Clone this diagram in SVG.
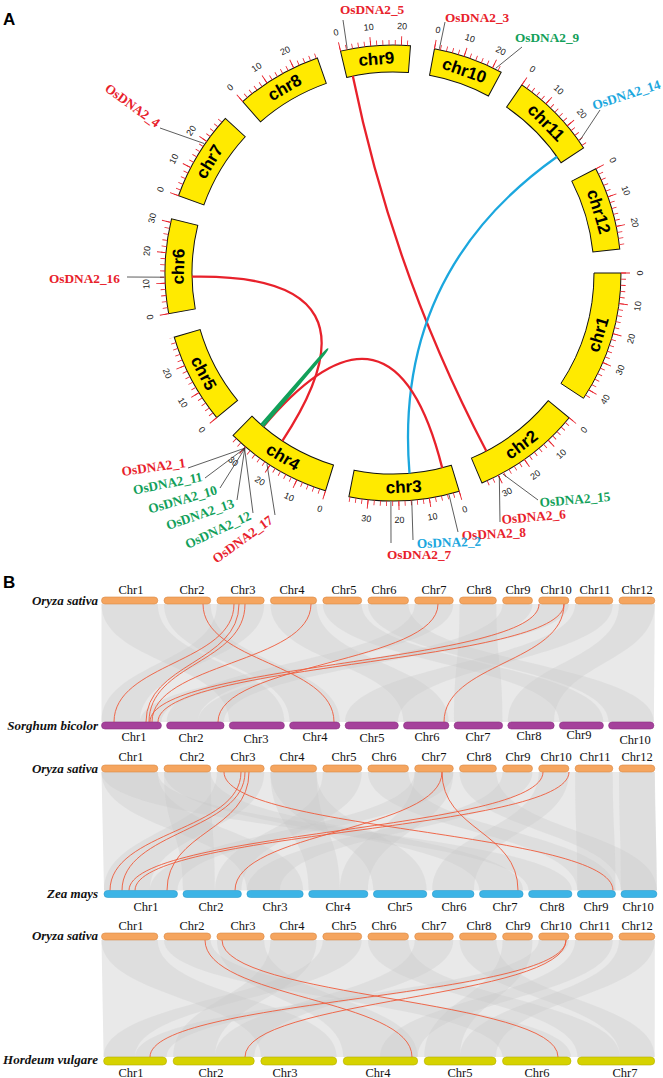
<svg xmlns="http://www.w3.org/2000/svg" width="663" height="1078" viewBox="0 0 663 1078">
<style>
.band{fill:#ffea00;stroke:#111;stroke-width:1}
.tkm{fill:none;stroke:#e8212b;stroke-width:5;stroke-dasharray:0.8 5.3954}
.tkM{fill:none;stroke:#e8212b;stroke-width:9;stroke-dasharray:0.9 30.3457}
.tl{font-family:"Liberation Sans",Arial,sans-serif;font-size:9px;fill:#222;text-anchor:middle;dominant-baseline:central}
.cn{font-family:"Liberation Sans",Arial,sans-serif;font-weight:bold;font-size:17px;fill:#000;text-anchor:middle;dominant-baseline:central}
.gl{font-family:"Liberation Serif","Times New Roman",serif;font-weight:bold;font-size:13.3px}
.r{fill:#e8212b}.g{fill:#12a05a}.c{fill:#1ba7de}
.ld{stroke:#333;stroke-width:0.8;fill:none}
.lk{fill:none;stroke-width:2.3}
.pl{font-family:"Liberation Sans",Arial,sans-serif;font-weight:bold;font-size:17px;fill:#000}
.bg{fill:#e9e9e9}
.rb{fill:#c8c8c8;fill-opacity:.3}
.sy{fill:none;stroke:#ef5a3a;stroke-width:.9}
.cl{font-family:"Liberation Serif","Times New Roman",serif;font-size:12.5px;fill:#111;text-anchor:middle}
.sp{font-family:"Liberation Serif","Times New Roman",serif;font-size:13px;font-weight:bold;font-style:italic;fill:#111;text-anchor:end}
.os{fill:#f5a55f;stroke:#d98a46;stroke-width:.6}
.sb{fill:#a5419b;stroke:#8a2f82;stroke-width:.6}
.zm{fill:#3cb4e6;stroke:#2a9acb;stroke-width:.6}
.hv{fill:#d6d200;stroke:#b5b000;stroke-width:.6}
</style>

<text class="pl" x="3" y="25">A</text>
<text class="pl" x="3" y="588">B</text>

<!-- Circos chromosomes -->
<g id="chr1">
<g transform="translate(393,273) rotate(0)">
<path class="band" d="M228,0 A228,228 0 0 1 190.49,125.31 L167.94,110.47 A201,201 0 0 0 201,0 Z"/>
<path class="tkm" d="M230.5,-0.402 A230.5,230.5 0 0 1 192.58,126.68"/>
<path class="tkM" d="M232.5,-0.406 A232.5,232.5 0 0 1 194.25,127.78"/>
</g>
<text class="cn" transform="translate(598.5,334.5) rotate(-73.3)">chr1</text>
<text class="tl" transform="translate(640,273) rotate(-90)">0</text>
<text class="tl" transform="translate(637.8,306.1) rotate(-82.3)">10</text>
<text class="tl" transform="translate(631.1,338.6) rotate(-74.6)">20</text>
<text class="tl" transform="translate(620.2,369.9) rotate(-66.9)">30</text>
<text class="tl" transform="translate(605.2,399.5) rotate(-59.2)">40</text>
</g>

<g id="chr2">
<g transform="translate(393,273) rotate(39.41)">
<path class="band" d="M228,0 A228,228 0 0 1 201.99,105.77 L178.07,93.24 A201,201 0 0 0 201,0 Z"/>
<path class="tkm" d="M230.5,-0.402 A230.5,230.5 0 0 1 204.20,106.93"/>
<path class="tkM" d="M232.5,-0.406 A232.5,232.5 0 0 1 205.97,107.86"/>
</g>
<text class="cn" transform="translate(521.4,444.8) rotate(-36.8)">chr2</text>
<text class="tl" transform="translate(583.9,429.8) rotate(-50.6)">0</text>
<text class="tl" transform="translate(561.1,454.0) rotate(-42.9)">10</text>
<text class="tl" transform="translate(535.3,474.8) rotate(-35.2)">20</text>
<text class="tl" transform="translate(507.0,492.1) rotate(-27.5)">30</text>
</g>

<g id="chr3">
<g transform="translate(393,273) rotate(73.12)">
<path class="band" d="M228,0 A228,228 0 0 1 201.26,107.16 L177.42,94.47 A201,201 0 0 0 201,0 Z"/>
<path class="tkm" d="M230.5,-0.402 A230.5,230.5 0 0 1 203.46,108.34"/>
<path class="tkM" d="M232.5,-0.406 A232.5,232.5 0 0 1 205.23,109.28"/>
</g>
<text class="cn" transform="translate(403.7,487.2) rotate(-2.9)">chr3</text>
<text class="tl" transform="translate(464.7,509.4) rotate(-16.9)">0</text>
<text class="tl" transform="translate(432.4,516.8) rotate(-9.2)">10</text>
<text class="tl" transform="translate(399.4,519.9) rotate(-1.5)">20</text>
<text class="tl" transform="translate(366.2,518.5) rotate(6.2)">30</text>
</g>

<g id="chr4">
<g transform="translate(393,273) rotate(107.22)">
<path class="band" d="M228,0 A228,228 0 0 1 202.53,104.72 L178.55,92.32 A201,201 0 0 0 201,0 Z"/>
<path class="tkm" d="M230.5,-0.402 A230.5,230.5 0 0 1 204.75,105.87"/>
<path class="tkM" d="M232.5,-0.406 A232.5,232.5 0 0 1 206.53,106.79"/>
</g>
<text class="cn" transform="translate(282.9,457.1) rotate(30.9)">chr4</text>
<text class="tl" transform="translate(319.9,508.9) rotate(17.2)">0</text>
<text class="tl" transform="translate(289.0,497.0) rotate(24.9)">10</text>
<text class="tl" transform="translate(259.8,481.0) rotate(32.6)">20</text>
<text class="tl" transform="translate(233.2,461.4) rotate(40.3)">30</text>
</g>

<g id="chr5">
<g transform="translate(393,273) rotate(140.63)">
<path class="band" d="M228,0 A228,228 0 0 1 209.85,89.15 L185.0,78.59 A201,201 0 0 0 201,0 Z"/>
<path class="tkm" d="M230.5,-0.402 A230.5,230.5 0 0 1 212.15,90.13"/>
<path class="tkM" d="M232.5,-0.406 A232.5,232.5 0 0 1 213.99,90.91"/>
</g>
<text class="cn" transform="translate(203.4,373.2) rotate(62.1)">chr5</text>
<text class="tl" transform="translate(202.0,429.7) rotate(50.6)">0</text>
<text class="tl" transform="translate(182.8,402.7) rotate(58.3)">10</text>
<text class="tl" transform="translate(167.3,373.4) rotate(66.0)">20</text>
</g>

<g id="chr6">
<g transform="translate(393,273) rotate(169.72)">
<path class="band" d="M228,0 A228,228 0 0 1 208.26,92.80 L183.59,81.81 A201,201 0 0 0 201,0 Z"/>
<path class="tkm" d="M230.5,-0.402 A230.5,230.5 0 0 1 210.54,93.81"/>
<path class="tkM" d="M232.5,-0.406 A232.5,232.5 0 0 1 212.37,94.63"/>
</g>
<text class="cn" transform="translate(178.6,266.5) rotate(-88.3)">chr6</text>
<text class="tl" transform="translate(150.0,317.1) rotate(-100.3)">0</text>
<text class="tl" transform="translate(146.2,284.1) rotate(-92.6)">10</text>
<text class="tl" transform="translate(147.0,251.0) rotate(-84.9)">20</text>
<text class="tl" transform="translate(152.2,218.2) rotate(-77.2)">30</text>
</g>

<g id="chr7">
<g transform="translate(393,273) rotate(199.81)">
<path class="band" d="M228,0 A228,228 0 0 1 210.08,88.60 L185.20,78.11 A201,201 0 0 0 201,0 Z"/>
<path class="tkm" d="M230.5,-0.402 A230.5,230.5 0 0 1 212.38,89.57"/>
<path class="tkM" d="M232.5,-0.406 A232.5,232.5 0 0 1 214.23,90.35"/>
</g>
<text class="cn" transform="translate(209.6,161.7) rotate(-58.8)">chr7</text>
<text class="tl" transform="translate(160.6,189.3) rotate(-70.2)">0</text>
<text class="tl" transform="translate(173.9,158.9) rotate(-62.5)">10</text>
<text class="tl" transform="translate(191.2,130.6) rotate(-54.8)">20</text>
</g>

<g id="chr8">
<g transform="translate(393,273) rotate(228.75)">
<path class="band" d="M228,0 A228,228 0 0 1 211.58,84.93 L186.53,74.87 A201,201 0 0 0 201,0 Z"/>
<path class="tkm" d="M230.5,-0.402 A230.5,230.5 0 0 1 213.90,85.86"/>
<path class="tkM" d="M232.5,-0.406 A232.5,232.5 0 0 1 215.76,86.61"/>
</g>
<text class="cn" transform="translate(284.7,87.8) rotate(-30.3)">chr8</text>
<text class="tl" transform="translate(230.2,87.3) rotate(-41.3)">0</text>
<text class="tl" transform="translate(256.5,67.2) rotate(-33.6)">10</text>
<text class="tl" transform="translate(285.3,50.7) rotate(-25.9)">20</text>
</g>

<g id="chr9">
<g transform="translate(393,273) rotate(256.69)">
<path class="band" d="M228,0 A228,228 0 0 1 217.22,69.36 L191.49,61.14 A201,201 0 0 0 201,0 Z"/>
<path class="tkm" d="M230.5,-0.402 A230.5,230.5 0 0 1 219.60,70.12"/>
<path class="tkM" d="M232.5,-0.406 A232.5,232.5 0 0 1 221.50,70.73"/>
</g>
<text class="cn" transform="translate(376.4,59.1) rotate(-4.5)">chr9</text>
<text class="tl" transform="translate(336.1,32.6) rotate(-13.3)">0</text>
<text class="tl" transform="translate(368.8,27.2) rotate(-5.6)">10</text>
<text class="tl" transform="translate(402.0,26.2) rotate(2.1)">20</text>
</g>

<g id="chr10">
<g transform="translate(393,273) rotate(280.47)">
<path class="band" d="M228,0 A228,228 0 0 1 217.03,69.93 L191.33,61.65 A201,201 0 0 0 201,0 Z"/>
<path class="tkm" d="M230.5,-0.402 A230.5,230.5 0 0 1 219.41,70.69"/>
<path class="tkM" d="M232.5,-0.406 A232.5,232.5 0 0 1 221.32,71.31"/>
</g>
<text class="cn" transform="translate(464.3,70.7) rotate(19.4)">chr10</text>
<text class="tl" transform="translate(437.9,30.1) rotate(10.5)">0</text>
<text class="tl" transform="translate(470.0,38.3) rotate(18.2)">10</text>
<text class="tl" transform="translate(500.8,50.7) rotate(25.9)">20</text>
</g>

<g id="chr11">
<g transform="translate(393,273) rotate(304.4)">
<path class="band" d="M228,0 A228,228 0 0 1 210.9,86.62 L185.93,76.36 A201,201 0 0 0 201,0 Z"/>
<path class="tkm" d="M230.5,-0.402 A230.5,230.5 0 0 1 213.21,87.57"/>
<path class="tkM" d="M232.5,-0.406 A232.5,232.5 0 0 1 215.06,88.33"/>
</g>
<text class="cn" transform="translate(546.1,122.8) rotate(45.6)">chr11</text>
<text class="tl" transform="translate(532.6,69.2) rotate(34.4)">0</text>
<text class="tl" transform="translate(558.6,89.7) rotate(42.1)">10</text>
<text class="tl" transform="translate(581.7,113.6) rotate(49.8)">20</text>
</g>

<g id="chr12">
<g transform="translate(393,273) rotate(332.8)">
<path class="band" d="M228,0 A228,228 0 0 1 212.61,82.38 L187.43,72.62 A201,201 0 0 0 201,0 Z"/>
<path class="tkm" d="M230.5,-0.402 A230.5,230.5 0 0 1 214.94,83.28"/>
<path class="tkM" d="M232.5,-0.406 A232.5,232.5 0 0 1 216.81,84.00"/>
</g>
<text class="cn" transform="translate(598.6,211.7) rotate(73.4)">chr12</text>
<text class="tl" transform="translate(612.7,160.1) rotate(62.8)">0</text>
<text class="tl" transform="translate(625.8,190.6) rotate(70.5)">10</text>
<text class="tl" transform="translate(634.8,222.5) rotate(78.2)">20</text>
</g>

<!-- links -->
<g id="links">
<path class="lk" stroke="#e8212b" d="M352.8,76.1 Q393,273 486.3,451.0"/>
<path class="lk" stroke="#1ba7de" stroke-width="2.6" d="M557.0,156.7 Q393,273 409.5,473.3"/>
<path class="lk" stroke="#e8212b" d="M192.0,276.7 Q393,273 282.4,440.8"/>
<path class="lk" stroke="#e8212b" d="M263.4,426.6 Q393,273 442.2,467.9"/>
<path class="lk" stroke="#12a05a" stroke-width="2.6" d="M263.0,426.3 Q393,273 261.1,424.7"/>
</g>

<!-- gene labels -->
<g id="gene-labels">
<path class="ld" d="M347.2,48.6 L343,20"/>
<text class="gl r" x="340" y="14">OsDNA2_5</text>
<path class="ld" d="M439.4,48.8 L445,22"/>
<text class="gl r" x="445" y="22">OsDNA2_3</text>
<path class="ld" d="M495.7,68.3 L522,47"/>
<text class="gl g" x="515" y="42">OsDNA2_9</text>
<path class="ld" d="M579.8,140.5 L600,110"/>
<text class="gl c" transform="translate(594,110) rotate(-18)">OsDNA2_14</text>
<path class="ld" d="M164,277.2 L127,277"/>
<text class="gl r" x="49" y="283">OsDNA2_16</text>
<path class="ld" d="M204.1,143.5 L160,128"/>
<text class="gl r" text-anchor="end" transform="translate(156,128) rotate(36)">OsDNA2_4</text>
<path class="ld" d="M245.3,448 L188,468"/>
<text class="gl r" text-anchor="end" transform="translate(186,467) rotate(-8)">OsDNA2_1</text>
<path class="ld" d="M245.1,448 L205,478"/>
<text class="gl g" text-anchor="end" transform="translate(203,481) rotate(-11)">OsDNA2_11</text>
<path class="ld" d="M245,448.2 L220,488"/>
<text class="gl g" text-anchor="end" transform="translate(218,494) rotate(-16)">OsDNA2_10</text>
<path class="ld" d="M244.8,448.3 L237,500"/>
<text class="gl g" text-anchor="end" transform="translate(235,507) rotate(-19)">OsDNA2_13</text>
<path class="ld" d="M244.6,448.5 L253,513"/>
<text class="gl g" text-anchor="end" transform="translate(252,519) rotate(-25)">OsDNA2_12</text>
<path class="ld" d="M267,464.2 L275,515"/>
<text class="gl r" text-anchor="end" transform="translate(274,522) rotate(-36)">OsDNA2_17</text>
<path class="ld" d="M502.8,474 L538,500"/>
<text class="gl g" transform="translate(540,507) rotate(-5)">OsDNA2_15</text>
<path class="ld" d="M499.3,475.9 L500,522"/>
<text class="gl r" transform="translate(502,524) rotate(-5)">OsDNA2_6</text>
<path class="ld" d="M449.1,495 L458,532"/>
<text class="gl r" transform="translate(462,540) rotate(-3)">OsDNA2_8</text>
<path class="ld" d="M411.8,501.2 L413,540"/>
<text class="gl c" transform="translate(417,548) rotate(-2)">OsDNA2_2</text>
<path class="ld" d="M390.9,502 L391,543"/>
<text class="gl r" x="387" y="559">OsDNA2_7</text>
</g>

<!-- Panel B backgrounds -->
<g id="synteny-background">
<path class="bg" d="M101.5,604 L654.8,604 L653.9,722 L101.5,722 Z"/>
<path class="bg" d="M101.5,772 L654.8,772 L656.9,890.5 L104,890.5 Z"/>
<path class="bg" d="M101.5,940 L654.8,940 L654.7,1057 L103.6,1057 Z"/>
<!-- panel 1 ribbons -->
<path class="rb" d="M101.5,604 C101.5,663 229.3,663 229.3,722 L284.4,722 C284.4,663 157.8,663 157.8,604 Z"/>
<path class="rb" d="M164,604 C164,663 289.6,663 289.6,722 L339.9,722 C339.9,663 210.7,663 210.7,604 Z"/>
<path class="rb" d="M216.9,604 C216.9,663 101.5,663 101.5,722 L140,722 C140,663 264.2,663 264.2,604 Z"/>
<path class="rb" d="M270.4,604 C270.4,663 403.5,663 403.5,722 L448.9,722 C448.9,663 316.6,663 316.6,604 Z"/>
<path class="rb" d="M322.8,604 C322.8,663 559.4,663 559.4,722 L603.4,722 C603.4,663 361.7,663 361.7,604 Z"/>
<path class="rb" d="M367.9,604 C367.9,663 608.6,663 608.6,722 L653.9,722 C653.9,663 408.5,663 408.5,604 Z"/>
<path class="rb" d="M414.7,604 C414.7,663 166.6,663 166.6,722 L198,722 C198,663 453.3,663 453.3,604 Z"/>
<path class="rb" d="M459.5,604 C459.5,663 454.1,663 454.1,722 L502.6,722 C502.6,663 496.4,663 496.4,604 Z"/>
<path class="rb" d="M502.6,604 C502.6,663 198,663 198,722 L224.1,722 C224.1,663 532.5,663 532.5,604 Z"/>
<path class="rb" d="M538.7,604 C538.7,663 140,663 140,722 L161.4,722 C161.4,663 568.9,663 568.9,604 Z"/>
<path class="rb" d="M575.1,604 C575.1,663 345.1,663 345.1,722 L398.3,722 C398.3,663 612.8,663 612.8,604 Z"/>
<path class="rb" d="M619,604 C619,663 507.8,663 507.8,722 L554.2,722 C554.2,663 654.8,663 654.8,604 Z"/>
<!-- panel 2 ribbons -->
<path class="rb" d="M101.5,772 C101.5,831 246.9,831 246.9,890.5 L303.2,890.5 C303.2,831 157.8,831 157.8,772 Z"/>
<path class="rb" d="M101.5,772 C101.5,831 528.6,831 528.6,890.5 L571.9,890.5 C571.9,831 157.8,831 157.8,772 Z"/>
<path class="rb" d="M164,772 C164,831 479.5,831 479.5,890.5 L523.1,890.5 C523.1,831 210.7,831 210.7,772 Z"/>
<path class="rb" d="M164,772 C164,831 183,831 183,890.5 L215,890.5 C215,831 210.7,831 210.7,772 Z"/>
<path class="rb" d="M216.9,772 C216.9,831 104,831 104,890.5 L150,890.5 C150,831 264.2,831 264.2,772 Z"/>
<path class="rb" d="M270.4,772 C270.4,831 373.4,831 373.4,890.5 L426.8,890.5 C426.8,831 316.6,831 316.6,772 Z"/>
<path class="rb" d="M270.4,772 C270.4,831 308.7,831 308.7,890.5 L340,890.5 C340,831 316.6,831 316.6,772 Z"/>
<path class="rb" d="M322.8,772 C322.8,831 215,831 215,890.5 L241.4,890.5 C241.4,831 361.7,831 361.7,772 Z"/>
<path class="rb" d="M367.9,772 C367.9,831 577.4,831 577.4,890.5 L615.5,890.5 C615.5,831 408.5,831 408.5,772 Z"/>
<path class="rb" d="M414.7,772 C414.7,831 150,831 150,890.5 L177.5,890.5 C177.5,831 453.3,831 453.3,772 Z"/>
<path class="rb" d="M414.7,772 C414.7,831 340,831 340,890.5 L367.9,890.5 C367.9,831 453.3,831 453.3,772 Z"/>
<path class="rb" d="M459.5,772 C459.5,831 621,831 621,890.5 L656.9,890.5 C656.9,831 496.4,831 496.4,772 Z"/>
<path class="rb" d="M502.6,772 C502.6,831 246.9,831 246.9,890.5 L280,890.5 C280,831 532.5,831 532.5,772 Z"/>
<path class="rb" d="M538.7,772 C538.7,831 432.3,831 432.3,890.5 L474,890.5 C474,831 568.9,831 568.9,772 Z"/>
<path class="rb" d="M575.1,772 C575.1,831 577.4,831 577.4,890.5 L615.5,890.5 C615.5,831 612.8,831 612.8,772 Z"/>
<path class="rb" d="M619,772 C619,831 621,831 621,890.5 L656.9,890.5 C656.9,831 654.8,831 654.8,772 Z"/>
<!-- panel 3 ribbons -->
<path class="rb" d="M101.5,940 C101.5,998.5 260.8,998.5 260.8,1057 L336.7,1057 C336.7,998.5 157.8,998.5 157.8,940 Z"/>
<path class="rb" d="M164,940 C164,998.5 502.5,998.5 502.5,1057 L571,1057 C571,998.5 210.7,998.5 210.7,940 Z"/>
<path class="rb" d="M216.9,940 C216.9,998.5 343.2,998.5 343.2,1057 L417.7,1057 C417.7,998.5 264.2,998.5 264.2,940 Z"/>
<path class="rb" d="M270.4,940 C270.4,998.5 173.1,998.5 173.1,1057 L215,1057 C215,998.5 316.6,998.5 316.6,940 Z"/>
<path class="rb" d="M322.8,940 C322.8,998.5 103.6,998.5 103.6,1057 L135,1057 C135,998.5 361.7,998.5 361.7,940 Z"/>
<path class="rb" d="M367.9,940 C367.9,998.5 577.5,998.5 577.5,1057 L620,1057 C620,998.5 408.5,998.5 408.5,940 Z"/>
<path class="rb" d="M414.7,940 C414.7,998.5 215,998.5 215,1057 L254.3,1057 C254.3,998.5 453.3,998.5 453.3,940 Z"/>
<path class="rb" d="M459.5,940 C459.5,998.5 620,998.5 620,1057 L654.7,1057 C654.7,998.5 496.4,998.5 496.4,940 Z"/>
<path class="rb" d="M502.6,940 C502.6,998.5 424.2,998.5 424.2,1057 L460,1057 C460,998.5 532.5,998.5 532.5,940 Z"/>
<path class="rb" d="M538.7,940 C538.7,998.5 135,998.5 135,1057 L166.6,1057 C166.6,998.5 568.9,998.5 568.9,940 Z"/>
<path class="rb" d="M575.1,940 C575.1,998.5 380,998.5 380,1057 L417.7,1057 C417.7,998.5 612.8,998.5 612.8,940 Z"/>
<path class="rb" d="M619,940 C619,998.5 460,998.5 460,1057 L496,1057 C496,998.5 654.8,998.5 654.8,940 Z"/>
</g>

<!-- Panel B red syntenic links -->
<g id="synteny-links">
<path class="sy" d="M203,604 C203,663 334,663 334,722"/>
<path class="sy" d="M234,604 C234,663 114,663 114,722"/>
<path class="sy" d="M239,604 C239,663 146,663 146,722"/>
<path class="sy" d="M245,604 C245,663 149,663 149,722"/>
<path class="sy" d="M311,604 C311,663 152,663 152,722"/>
<path class="sy" d="M438,604 C438,663 218,663 218,722"/>
<path class="sy" d="M539,604 C539,663 150,663 150,722"/>
<path class="sy" d="M564,604 C564,663 158,663 158,722"/>
<path class="sy" d="M564,604 C564,663 444,663 444,722"/>

<path class="sy" d="M224,772 C224,831 613,831 613,890.5"/>
<path class="sy" d="M241,772 C241,831 110,831 110,890.5"/>
<path class="sy" d="M245,772 C245,831 122,831 122,890.5"/>
<path class="sy" d="M249,772 C249,831 167,831 167,890.5"/>
<path class="sy" d="M442,772 C442,831 518,831 518,890.5"/>
<path class="sy" d="M442,772 C442,831 235,831 235,890.5"/>
<path class="sy" d="M543,772 C543,831 129,831 129,890.5"/>
<path class="sy" d="M569,772 C569,831 135,831 135,890.5"/>

<path class="sy" d="M205,940 C205,998.5 412,998.5 412,1057"/>
<path class="sy" d="M222,940 C222,998.5 558,998.5 558,1057"/>
<path class="sy" d="M566,940 C566,998.5 150,998.5 150,1057"/>
<path class="sy" d="M566,940 C566,998.5 245,998.5 245,1057"/>
</g>

<!-- Oryza row 1 -->
<g id="oryza-1">
<text class="sp" x="98" y="605">Oryza sativa</text>
<rect class="os" x="101.5" y="597" width="56.3" height="7" rx="3.5"/>
<rect class="os" x="164" y="597" width="46.7" height="7" rx="3.5"/>
<rect class="os" x="216.9" y="597" width="47.3" height="7" rx="3.5"/>
<rect class="os" x="270.4" y="597" width="46.2" height="7" rx="3.5"/>
<rect class="os" x="322.8" y="597" width="38.9" height="7" rx="3.5"/>
<rect class="os" x="367.9" y="597" width="40.6" height="7" rx="3.5"/>
<rect class="os" x="414.7" y="597" width="38.6" height="7" rx="3.5"/>
<rect class="os" x="459.5" y="597" width="36.9" height="7" rx="3.5"/>
<rect class="os" x="502.6" y="597" width="29.9" height="7" rx="3.5"/>
<rect class="os" x="538.7" y="597" width="30.2" height="7" rx="3.5"/>
<rect class="os" x="575.1" y="597" width="37.7" height="7" rx="3.5"/>
<rect class="os" x="619" y="597" width="35.8" height="7" rx="3.5"/>
<text class="cl" x="131" y="594">Chr1</text>
<text class="cl" x="192" y="594">Chr2</text>
<text class="cl" x="243" y="594">Chr3</text>
<text class="cl" x="292" y="594">Chr4</text>
<text class="cl" x="344" y="594">Chr5</text>
<text class="cl" x="384" y="594">Chr6</text>
<text class="cl" x="434" y="594">Chr7</text>
<text class="cl" x="479" y="594">Chr8</text>
<text class="cl" x="518" y="594">Chr9</text>
<text class="cl" x="556" y="594">Chr10</text>
<text class="cl" x="595" y="594">Chr11</text>
<text class="cl" x="637" y="594">Chr12</text>
</g>

<g id="sorghum">
<text class="sp" x="98" y="730">Sorghum bicolor</text>
<rect class="sb" x="101.5" y="722" width="59.9" height="7" rx="3.5"/>
<rect class="sb" x="166.6" y="722" width="57.5" height="7" rx="3.5"/>
<rect class="sb" x="229.3" y="722" width="55.1" height="7" rx="3.5"/>
<rect class="sb" x="289.6" y="722" width="50.3" height="7" rx="3.5"/>
<rect class="sb" x="345.1" y="722" width="53.2" height="7" rx="3.5"/>
<rect class="sb" x="403.5" y="722" width="45.4" height="7" rx="3.5"/>
<rect class="sb" x="454.1" y="722" width="48.5" height="7" rx="3.5"/>
<rect class="sb" x="507.8" y="722" width="46.4" height="7" rx="3.5"/>
<rect class="sb" x="559.4" y="722" width="44" height="7" rx="3.5"/>
<rect class="sb" x="608.6" y="722" width="45.3" height="7" rx="3.5"/>
<text class="cl" x="134" y="741">Chr1</text>
<text class="cl" x="191" y="742">Chr2</text>
<text class="cl" x="256" y="743">Chr3</text>
<text class="cl" x="315" y="741">Chr4</text>
<text class="cl" x="372" y="742">Chr5</text>
<text class="cl" x="427" y="741">Chr6</text>
<text class="cl" x="478" y="741">Chr7</text>
<text class="cl" x="529" y="740">Chr8</text>
<text class="cl" x="579" y="739">Chr9</text>
<text class="cl" x="635" y="744">Chr10</text>
</g>

<g id="oryza-2">
<text class="sp" x="98" y="773">Oryza sativa</text>
<rect class="os" x="101.5" y="765" width="56.3" height="7" rx="3.5"/>
<rect class="os" x="164" y="765" width="46.7" height="7" rx="3.5"/>
<rect class="os" x="216.9" y="765" width="47.3" height="7" rx="3.5"/>
<rect class="os" x="270.4" y="765" width="46.2" height="7" rx="3.5"/>
<rect class="os" x="322.8" y="765" width="38.9" height="7" rx="3.5"/>
<rect class="os" x="367.9" y="765" width="40.6" height="7" rx="3.5"/>
<rect class="os" x="414.7" y="765" width="38.6" height="7" rx="3.5"/>
<rect class="os" x="459.5" y="765" width="36.9" height="7" rx="3.5"/>
<rect class="os" x="502.6" y="765" width="29.9" height="7" rx="3.5"/>
<rect class="os" x="538.7" y="765" width="30.2" height="7" rx="3.5"/>
<rect class="os" x="575.1" y="765" width="37.7" height="7" rx="3.5"/>
<rect class="os" x="619" y="765" width="35.8" height="7" rx="3.5"/>
<text class="cl" x="131" y="761">Chr1</text>
<text class="cl" x="192" y="761">Chr2</text>
<text class="cl" x="243" y="761">Chr3</text>
<text class="cl" x="292" y="761">Chr4</text>
<text class="cl" x="344" y="761">Chr5</text>
<text class="cl" x="384" y="761">Chr6</text>
<text class="cl" x="434" y="761">Chr7</text>
<text class="cl" x="479" y="761">Chr8</text>
<text class="cl" x="518" y="761">Chr9</text>
<text class="cl" x="556" y="761">Chr10</text>
<text class="cl" x="595" y="761">Chr11</text>
<text class="cl" x="637" y="761">Chr12</text>
</g>

<g id="zea">
<text class="sp" x="98" y="898">Zea mays</text>
<rect class="zm" x="104" y="890.5" width="73.5" height="7" rx="3.5"/>
<rect class="zm" x="183" y="890.5" width="58.4" height="7" rx="3.5"/>
<rect class="zm" x="246.9" y="890.5" width="56.3" height="7" rx="3.5"/>
<rect class="zm" x="308.7" y="890.5" width="59.2" height="7" rx="3.5"/>
<rect class="zm" x="373.4" y="890.5" width="53.4" height="7" rx="3.5"/>
<rect class="zm" x="432.3" y="890.5" width="41.7" height="7" rx="3.5"/>
<rect class="zm" x="479.5" y="890.5" width="43.6" height="7" rx="3.5"/>
<rect class="zm" x="528.6" y="890.5" width="43.3" height="7" rx="3.5"/>
<rect class="zm" x="577.4" y="890.5" width="38.1" height="7" rx="3.5"/>
<rect class="zm" x="621" y="890.5" width="35.9" height="7" rx="3.5"/>
<text class="cl" x="146" y="911">Chr1</text>
<text class="cl" x="211" y="911">Chr2</text>
<text class="cl" x="275" y="911">Chr3</text>
<text class="cl" x="338" y="911">Chr4</text>
<text class="cl" x="400" y="911">Chr5</text>
<text class="cl" x="454" y="911">Chr6</text>
<text class="cl" x="505" y="911">Chr7</text>
<text class="cl" x="552" y="911">Chr8</text>
<text class="cl" x="596" y="911">Chr9</text>
<text class="cl" x="638" y="911">Chr10</text>
</g>

<g id="oryza-3">
<text class="sp" x="98" y="940">Oryza sativa</text>
<rect class="os" x="101.5" y="933" width="56.3" height="7" rx="3.5"/>
<rect class="os" x="164" y="933" width="46.7" height="7" rx="3.5"/>
<rect class="os" x="216.9" y="933" width="47.3" height="7" rx="3.5"/>
<rect class="os" x="270.4" y="933" width="46.2" height="7" rx="3.5"/>
<rect class="os" x="322.8" y="933" width="38.9" height="7" rx="3.5"/>
<rect class="os" x="367.9" y="933" width="40.6" height="7" rx="3.5"/>
<rect class="os" x="414.7" y="933" width="38.6" height="7" rx="3.5"/>
<rect class="os" x="459.5" y="933" width="36.9" height="7" rx="3.5"/>
<rect class="os" x="502.6" y="933" width="29.9" height="7" rx="3.5"/>
<rect class="os" x="538.7" y="933" width="30.2" height="7" rx="3.5"/>
<rect class="os" x="575.1" y="933" width="37.7" height="7" rx="3.5"/>
<rect class="os" x="619" y="933" width="35.8" height="7" rx="3.5"/>
<text class="cl" x="131" y="930">Chr1</text>
<text class="cl" x="192" y="930">Chr2</text>
<text class="cl" x="243" y="930">Chr3</text>
<text class="cl" x="292" y="930">Chr4</text>
<text class="cl" x="344" y="930">Chr5</text>
<text class="cl" x="384" y="930">Chr6</text>
<text class="cl" x="434" y="930">Chr7</text>
<text class="cl" x="479" y="930">Chr8</text>
<text class="cl" x="518" y="930">Chr9</text>
<text class="cl" x="556" y="930">Chr10</text>
<text class="cl" x="595" y="930">Chr11</text>
<text class="cl" x="637" y="930">Chr12</text>
</g>

<g id="hordeum">
<text class="sp" x="98" y="1064">Hordeum vulgare</text>
<rect class="hv" x="103.6" y="1057" width="63" height="8" rx="4"/>
<rect class="hv" x="173.1" y="1057" width="81.2" height="8" rx="4"/>
<rect class="hv" x="260.8" y="1057" width="75.9" height="8" rx="4"/>
<rect class="hv" x="343.2" y="1057" width="74.5" height="8" rx="4"/>
<rect class="hv" x="424.2" y="1057" width="71.8" height="8" rx="4"/>
<rect class="hv" x="502.5" y="1057" width="68.5" height="8" rx="4"/>
<rect class="hv" x="577.5" y="1057" width="77.2" height="8" rx="4"/>
<text class="cl" x="131" y="1077">Chr1</text>
<text class="cl" x="211" y="1077">Chr2</text>
<text class="cl" x="285" y="1077">Chr3</text>
<text class="cl" x="378" y="1077">Chr4</text>
<text class="cl" x="460" y="1077">Chr5</text>
<text class="cl" x="537" y="1077">Chr6</text>
<text class="cl" x="625" y="1077">Chr7</text>
</g>
</svg>
